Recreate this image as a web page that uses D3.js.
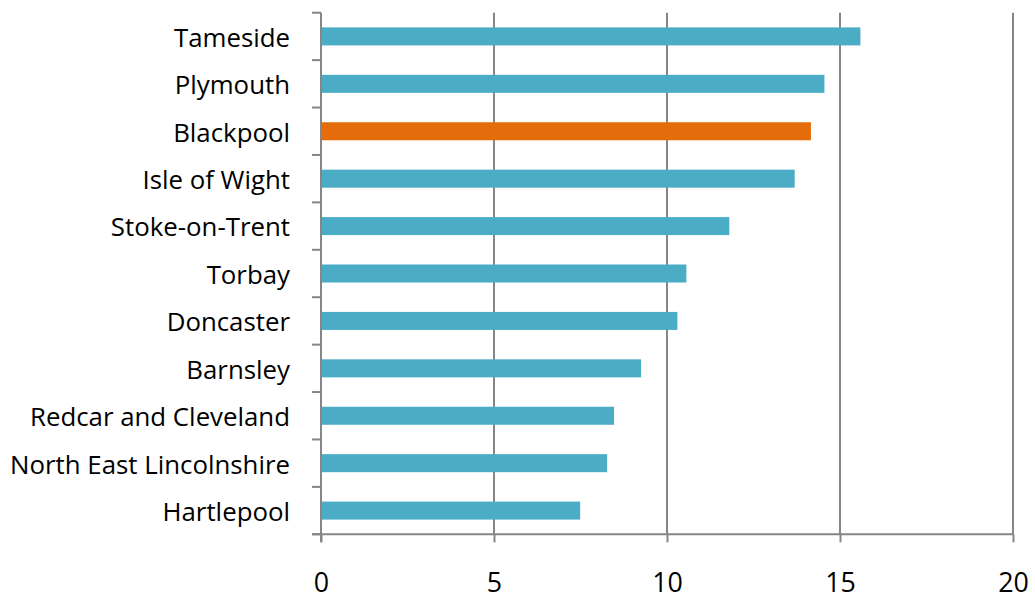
<!DOCTYPE html>
<html>
<head>
<meta charset="utf-8">
<script src="https://cdn.jsdelivr.net/npm/d3@7"></script>
<style>
  html, body { margin: 0; padding: 0; background: #fff; }
  svg { display: block; }
  text { font-family: "Open Sans", "Noto Sans", sans-serif; fill: #000; }
</style>
</head>
<body>
<svg id="chart" width="1035" height="600"></svg>
<script>
const categories = ["Tameside", "Plymouth", "Blackpool", "Isle of Wight", "Stoke-on-Trent", "Torbay", "Doncaster", "Barnsley", "Redcar and Cleveland", "North East Lincolnshire", "Hartlepool"];
const values = [15.59, 14.55, 14.16, 13.69, 11.80, 10.56, 10.30, 9.25, 8.47, 8.27, 7.49];
const highlight = ["Blackpool"];
const xTicks = [0, 5, 10, 15, 20];

(function () {
const svg = d3.select("#chart");
const left = 321, right = 1013, plotTop = 12.7, plotBottom = 534.3;
const x = d3.scaleLinear().domain([0, 20]).range([left, right]);
const y = d3.scaleBand().domain(categories).range([plotTop, plotBottom]).paddingInner(0.62).paddingOuter(0.31);
const grey = "#868686";

// gridlines
svg.append("g").selectAll("line").data(xTicks.filter(d => d > 0)).join("line")
  .attr("x1", d => x(d)).attr("x2", d => x(d))
  .attr("y1", plotTop).attr("y2", plotBottom)
  .attr("stroke", grey).attr("stroke-width", 2);

// bars
svg.append("g").selectAll("rect").data(categories).join("rect")
  .attr("x", x(0))
  .attr("y", d => y(d))
  .attr("width", (d, i) => x(values[i]) - x(0))
  .attr("height", y.bandwidth())
  .attr("fill", d => highlight.includes(d) ? "#E46C0A" : "#4BACC6");

// x axis
const xAxis = d3.axisBottom(x).tickValues(xTicks).tickSize(8).tickPadding(31).tickSizeOuter(0);
const gx = svg.append("g").attr("transform", `translate(0,${plotBottom})`).call(xAxis);
gx.select(".domain").attr("stroke", grey).attr("stroke-width", 2).attr("d", `M${left - 9},0H${right}`);
gx.selectAll(".tick line").attr("stroke", grey).attr("stroke-width", 2);
gx.selectAll(".tick text").attr("font-size", 24).attr("font-family", "Open Sans, sans-serif").attr("fill", "#000");

// y axis: boundary ticks
const step = y.step();
const bounds = d3.range(categories.length + 1).map(i => plotTop + i * step);
svg.append("g").selectAll("line").data(bounds).join("line")
  .attr("x1", left - 9).attr("x2", left)
  .attr("y1", d => d).attr("y2", d => d)
  .attr("stroke", grey).attr("stroke-width", 2);
svg.append("line").attr("x1", left).attr("x2", left).attr("y1", plotTop).attr("y2", plotBottom + 8)
  .attr("stroke", grey).attr("stroke-width", 2);

// y labels
const labels = svg.append("g").selectAll("text").data(categories).join("text")
  .attr("x", 290)
  .attr("y", d => y(d) + y.bandwidth() / 2)
  .attr("dy", "0.4em")
  .attr("text-anchor", "end")
  .attr("font-size", 24)
  .text(d => d);
// fit font size so the longest label matches reference width (~280px)
const longest = labels.filter(d => d === "North East Lincolnshire").node();
const w = longest.getComputedTextLength();
const fs = 24 * 280 / w;
labels.attr("font-size", fs);
gx.selectAll(".tick text").attr("font-size", fs + 1);
})();
</script>
</body>
</html>
